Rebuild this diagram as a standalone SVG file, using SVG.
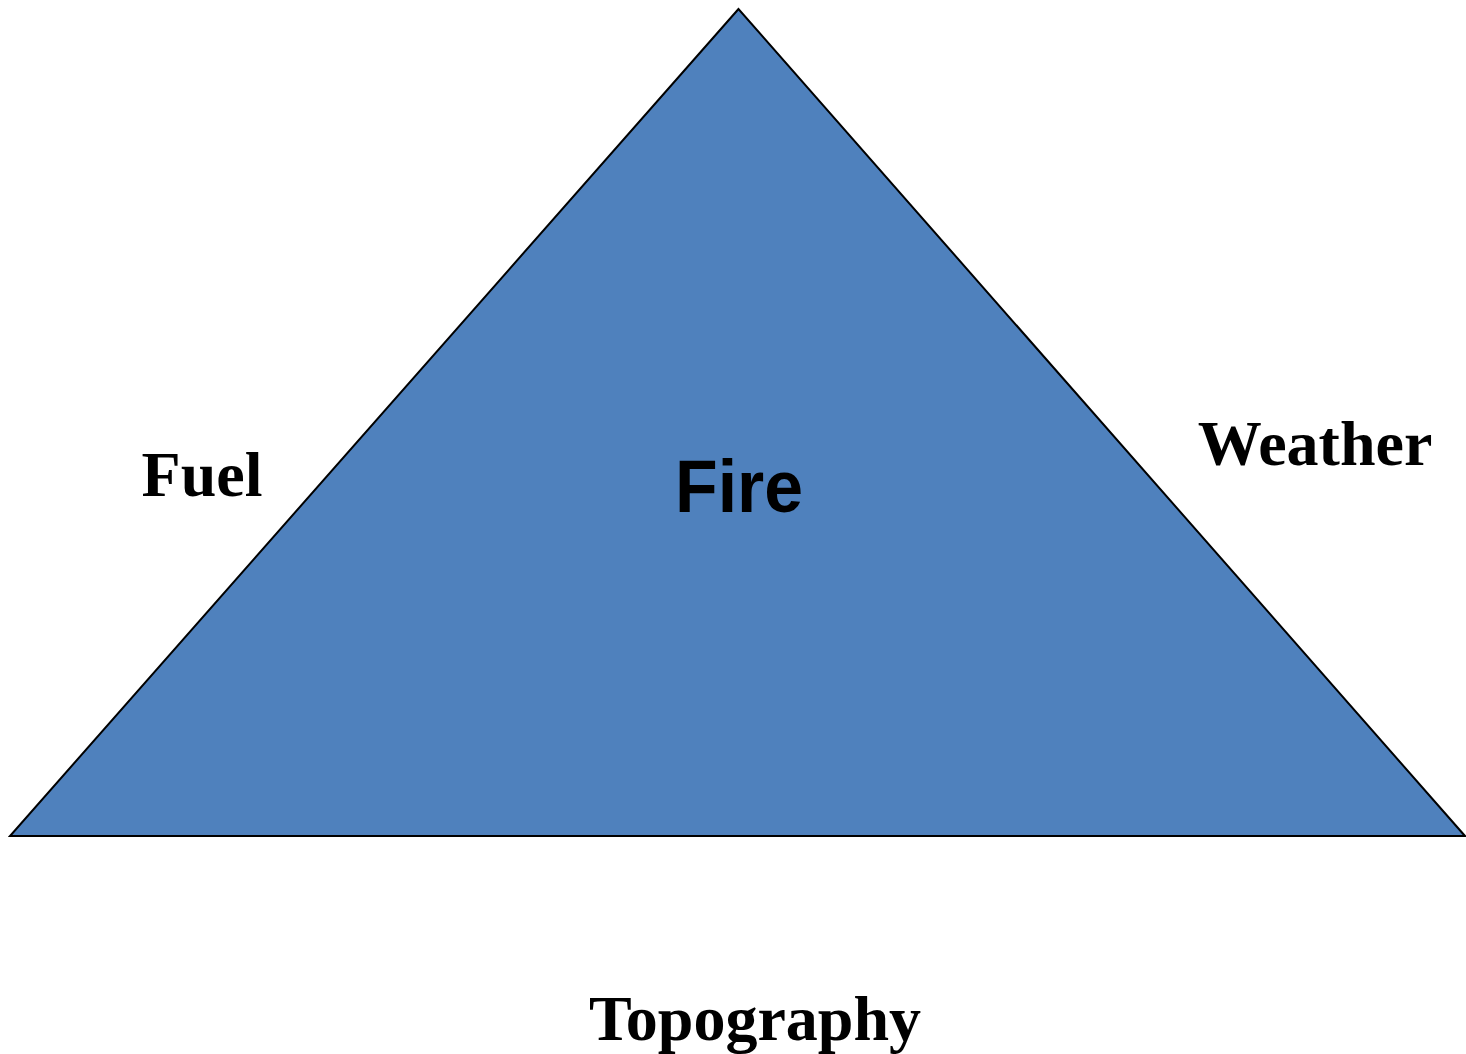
<svg xmlns="http://www.w3.org/2000/svg" width="1466" height="1054" viewBox="0 0 1466 1054">
<style>
.lbl{font-family:"Liberation Serif","Times New Roman",serif;font-weight:bold;font-size:64px;fill:#000;text-anchor:middle}
.fire{font-family:"Liberation Sans",Arial,sans-serif;font-weight:bold;font-size:74px;fill:#000;text-anchor:middle}
</style>
<rect width="1466" height="1054" fill="#fff"/>
<g id="triangle">
<polygon points="738.5,9 10,836 1465,836" fill="#4F81BD" stroke="#000" stroke-width="2" stroke-linejoin="miter"/>
<text class="fire" x="739" y="512" textLength="128" lengthAdjust="spacingAndGlyphs">Fire</text>
</g>
<g id="fuel"><text class="lbl" x="202" y="496">Fuel</text></g>
<g id="weather"><text class="lbl" x="1315" y="465">Weather</text></g>
<g id="topography"><text class="lbl" x="755" y="1040">Topography</text></g>
<g id="connectors"></g>
</svg>
